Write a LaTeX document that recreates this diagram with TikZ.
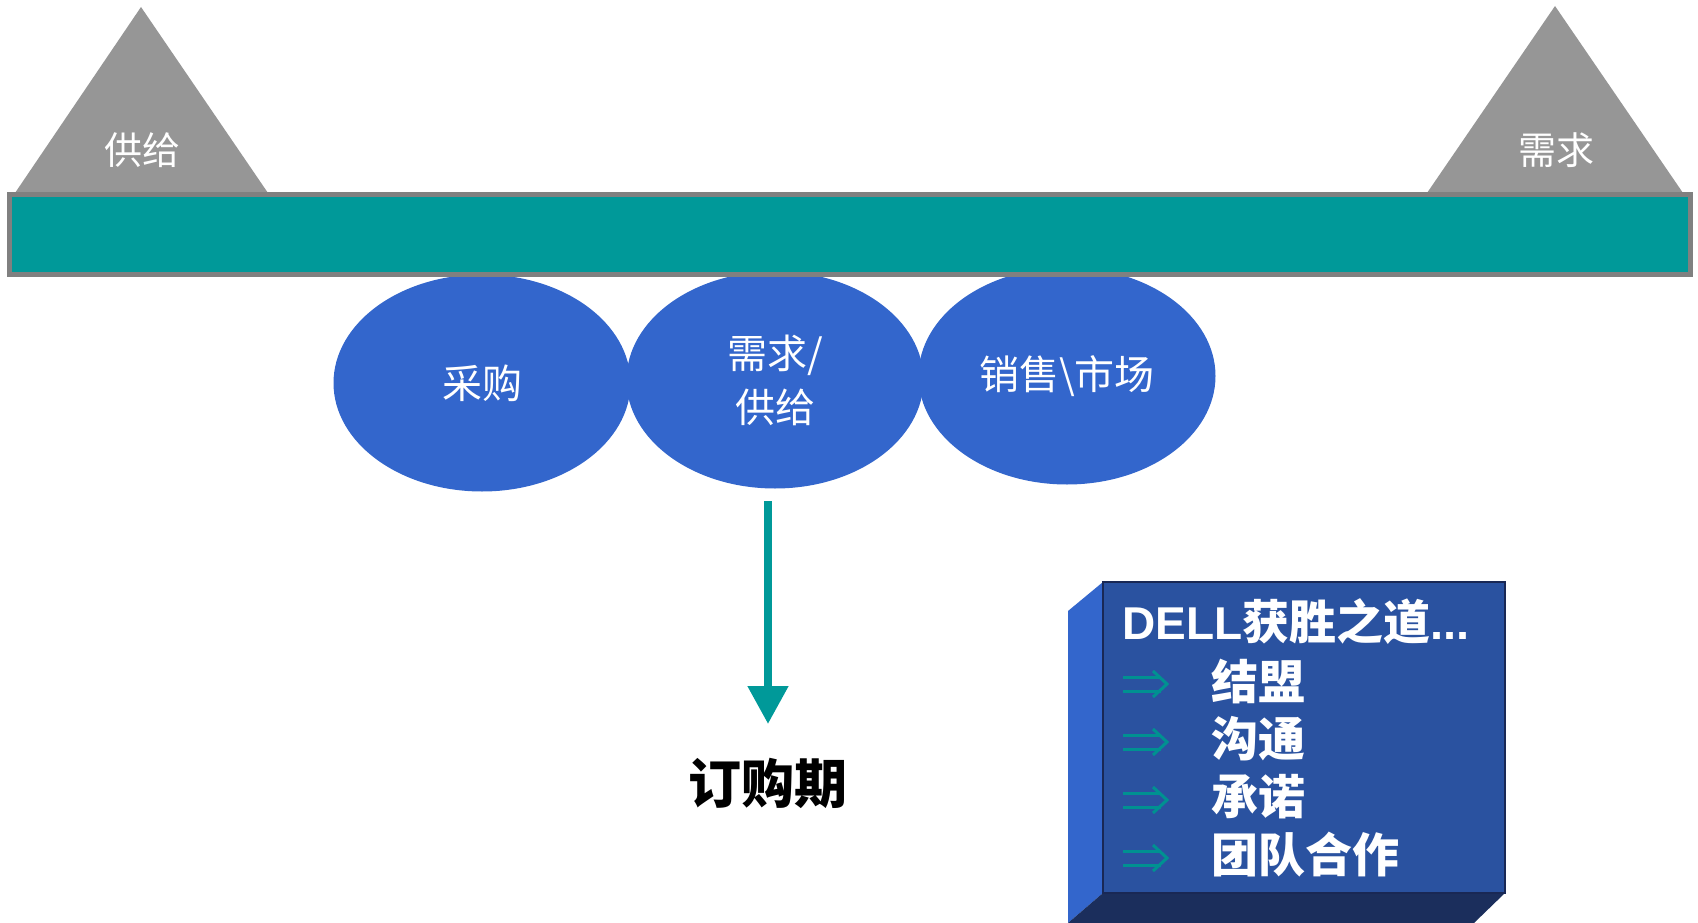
\documentclass[tikz,border=0pt]{standalone}
\usepackage{fontspec}
\newfontfamily\cjk{Noto Sans CJK SC}
\newfontfamily\arial{Liberation Sans}
\usetikzlibrary{shapes.geometric,arrows.meta}
\definecolor{tealbar}{RGB}{0,153,153}
\definecolor{barborder}{RGB}{128,128,128}
\definecolor{trigray}{RGB}{150,150,150}
\definecolor{ellblue}{RGB}{51,102,204}
\definecolor{boxfront}{RGB}{42,82,160}
\definecolor{boxside}{RGB}{51,102,204}
\definecolor{boxbottom}{RGB}{27,46,92}
\definecolor{boxedge}{RGB}{25,40,85}
\definecolor{arrowteal}{RGB}{0,145,145}
\tikzset{
  tritext/.style={text=white,font=\cjk\fontsize{38}{42}\selectfont,inner sep=0},
  ellnode/.style={ellipse,fill=ellblue,minimum width=297pt,minimum height=217pt,inner sep=0,
    text=white,align=center,font=\cjk\fontsize{40}{54}\selectfont},
  boxtext/.style={text=white,anchor=west,inner sep=0,font=\cjk\bfseries\fontsize{47}{50}\selectfont},
  dblarrow/.style={draw=arrowteal,line width=3pt},
}
\begin{document}
\begin{tikzpicture}[x=1pt,y=-1pt]
\useasboundingbox (0,0) rectangle (1698,923);
% triangles
\fill[trigray] (15,193) -- (141,7) -- (268,193) -- cycle;
\fill[trigray] (1427,193) -- (1555,6) -- (1683,193) -- cycle;
\node[tritext] (supply) at (142,150) {供给};
\node[tritext] (demand) at (1556,150) {需求};
% ellipses
\node[ellnode] (e1) at (482,383) {采购};
\node[ellnode] (e2) at (775,380) {需求/\\供给};
\node[ellnode] (e3) at (1067,376) {销售\textbackslash 市场};
% bar
\filldraw[fill=tealbar,draw=barborder,line width=5pt] (9.5,194.5) rectangle (1690.5,274.5);
% arrow
\coordinate (arrS) at (768,501);
\coordinate (arrE) at (768,724);
\draw[tealbar,line width=8pt,-{Triangle[width=39pt,length=38pt]}] (arrS) -- (arrE);
\node[font=\cjk\bfseries\fontsize{53}{56}\selectfont,inner sep=0] (order) at (768,783) {订购期};
% box
\fill[boxside] (1068,611) -- (1103,582) -- (1103,893) -- (1068,923) -- cycle;
\fill[boxbottom] (1103,893) -- (1505,893) -- (1474,923) -- (1068,923) -- cycle;
\filldraw[fill=boxfront,draw=boxedge,line width=1.5pt] (1103,582) rectangle (1505,893);
\node[boxtext] (title) at (1122,622) {{\arial\fontsize{46}{50}\selectfont DELL}获胜之道{\arial\bfseries ...}};
\node[boxtext] (r1) at (1211,681) {结盟};
\node[boxtext] (r2) at (1211,739) {沟通};
\node[boxtext] (r3) at (1211,797) {承诺};
\node[boxtext] (r4) at (1211,855) {团队合作};
\foreach \y in {684,742,800,858}{
  \draw[dblarrow] (1123,\y-7) -- (1161,\y-7);
  \draw[dblarrow] (1123,\y+7) -- (1161,\y+7);
  \draw[dblarrow,line join=miter] (1153,\y-13) -- (1167,\y) -- (1153,\y+13);
}
\end{tikzpicture}
\end{document}
